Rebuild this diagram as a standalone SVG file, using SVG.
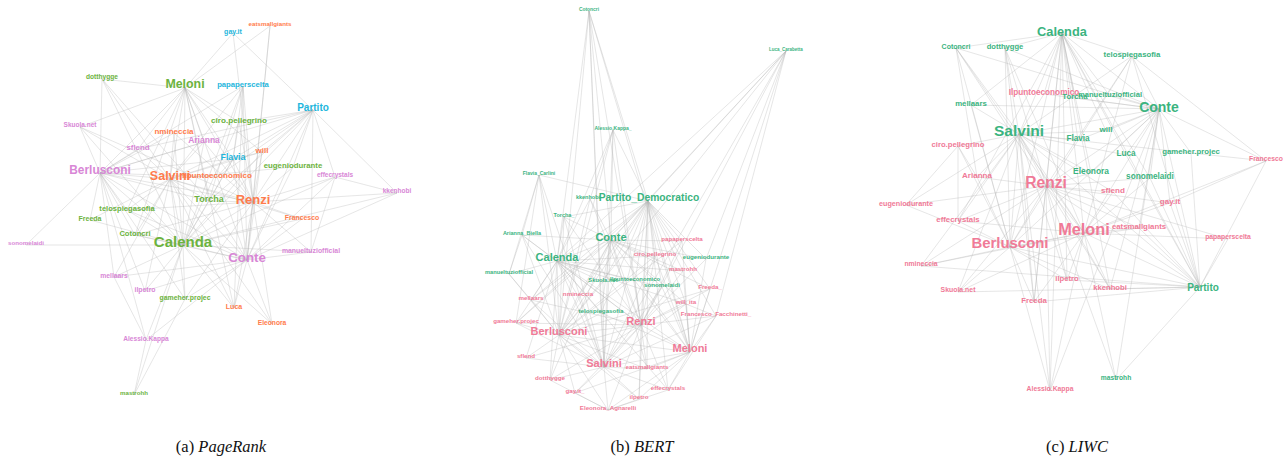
<svg xmlns="http://www.w3.org/2000/svg" width="1286" height="459" viewBox="0 0 1286 459">
<style>
.e{fill:none;stroke:#b4b4b4;stroke-width:.55;opacity:.62}
.t{font-family:"Liberation Sans",Arial,Helvetica,sans-serif;font-weight:bold;text-anchor:middle}
.ga{fill:#6cb33e}.oa{fill:#ff7b4c}.pa{fill:#d887d6}.ca{fill:#1eb6dc}
.gb{fill:#3bb47f}.pb{fill:#f07a97}
.cap{font-family:"Liberation Serif","Times New Roman",serif;font-size:16.5px;fill:#111;text-anchor:middle}
</style>
<rect width="1286" height="459" fill="#fff"/>
<g id="pagerank">
<g id="pagerank-edges">
<path class="e" d="M185 88L233 33M185 88L270 26M185 88L102 79M185 88L80 127M185 88L239 122M185 88L204 142M185 88L233 159M185 88L170 179M185 88L253 202M185 88L183 245M185 88L209 201M185 88L247 260M185 88L127 210M185 88L135 235M185 88L262 152M185 88L234 308M185 88L138 149M185 88L100 173"/>
<path class="e" d="M313 110L233 33M313 110L239 122M313 110L233 159M313 110L170 179M313 110L100 173M313 110L209 201M313 110L183 245M313 110L247 260M313 110L253 202M313 110L397 193M313 110L335 177M313 110L293 167M313 110L311 252M313 110L217 177M313 110L262 152M313 110L138 149"/>
<path class="e" d="M243 86L253 202M243 86L183 245M243 86L209 201M243 86L170 179M243 86L247 260M243 86L233 159M243 86L100 173M243 86L234 308M270 26L253 202M270 26L247 260M233 33L253 202"/>
<path class="e" d="M102 79L170 179M102 79L183 245M102 79L100 173M102 79L209 201M80 127L100 173M80 127L183 245M80 127L170 179M80 127L253 202"/>
<path class="e" d="M100 173L170 179M100 173L253 202M100 173L183 245M100 173L247 260M100 173L90 220M100 173L127 210M100 173L135 235M100 173L114 277M100 173L145 291M100 173L146 340M100 173L26 245M100 173L204 142M100 173L233 159M100 173L209 201M100 173L174 133M100 173L138 149M100 173L217 177M100 173L185 299"/>
<path class="e" d="M170 179L253 202M170 179L183 245M170 179L247 260M170 179L209 201M170 179L233 159M170 179L204 142M170 179L174 133M170 179L138 149M170 179L127 210M170 179L135 235M170 179L90 220M170 179L185 299M170 179L114 277M170 179L145 291M170 179L302 219M170 179L293 167M170 179L262 152M170 179L234 308M170 179L272 324"/>
<path class="e" d="M253 202L183 245M253 202L247 260M253 202L209 201M253 202L233 159M253 202L262 152M253 202L293 167M253 202L302 219M253 202L234 308M253 202L272 324M253 202L311 252M253 202L239 122M253 202L335 177M253 202L204 142M253 202L174 133M253 202L185 299M253 202L127 210M253 202L135 235M253 202L397 193"/>
<path class="e" d="M183 245L247 260M183 245L209 201M183 245L135 235M183 245L127 210M183 245L90 220M183 245L26 245M183 245L114 277M183 245L145 291M183 245L185 299M183 245L234 308M183 245L272 324M183 245L146 340M183 245L134 395M183 245L302 219M183 245L311 252M183 245L397 193M183 245L239 122M183 245L233 159M183 245L204 142M183 245L262 152M183 245L335 177M183 245L174 133"/>
<path class="e" d="M247 260L209 201M247 260L302 219M247 260L311 252M247 260L234 308M247 260L272 324M247 260L185 299M247 260L145 291M247 260L146 340M247 260L114 277M247 260L397 193M247 260L335 177M247 260L293 167M247 260L233 159M247 260L262 152M247 260L135 235M247 260L127 210"/>
<path class="e" d="M233 159L209 201M233 159L262 152M233 159L239 122M233 159L217 177M311 252L335 177M134 395L146 340M134 395L185 299M146 340L114 277M335 177L397 193"/>
</g>
<g id="pr-gayit"><text class="t ca" x="233" y="33.5" font-size="7">gay.it</text></g>
<g id="pr-eatsmallgiants"><text class="t oa" x="270" y="26.2" font-size="6.2">eatsmallgiants</text></g>
<g id="pr-dotthygge"><text class="t ga" x="102" y="79.3" font-size="6.6">dotthygge</text></g>
<g id="pr-meloni"><text class="t ga" x="185" y="88.4" font-size="12.4">Meloni</text></g>
<g id="pr-papaperscelta"><text class="t ca" x="243" y="86.7" font-size="7.7">papaperscelta</text></g>
<g id="pr-partito"><text class="t ca" x="313" y="110.5" font-size="10">Partito</text></g>
<g id="pr-skuola"><text class="t pa" x="80" y="127.3" font-size="6.5">Skuola.net</text></g>
<g id="pr-ciro"><text class="t ga" x="239" y="122.8" font-size="8.1">ciro.pellegrino</text></g>
<g id="pr-nmineccia"><text class="t oa" x="174" y="133.8" font-size="8">nmineccia</text></g>
<g id="pr-arianna"><text class="t pa" x="204" y="143" font-size="8.5">Arianna</text></g>
<g id="pr-sflend"><text class="t pa" x="138" y="149.7" font-size="7.8">sflend</text></g>
<g id="pr-will"><text class="t oa" x="262" y="152.8" font-size="8">will</text></g>
<g id="pr-flavia"><text class="t ca" x="233" y="160.2" font-size="8.8">Flavia</text></g>
<g id="pr-eugeniodurante"><text class="t ga" x="293" y="167.7" font-size="7.8">eugeniodurante</text></g>
<g id="pr-berlusconi"><text class="t pa" x="100" y="174.2" font-size="11.9">Berlusconi</text></g>
<g id="pr-salvini"><text class="t oa" x="170" y="180.4" font-size="12.5">Salvini</text></g>
<g id="pr-ilpunto"><text class="t oa" x="217" y="177.9" font-size="8.1">Ilpuntoeconomico</text></g>
<g id="pr-effecrystals"><text class="t pa" x="335" y="177.3" font-size="6.5">effecrystals</text></g>
<g id="pr-kkenhobi"><text class="t pa" x="397" y="193.3" font-size="6.5">kkenhobi</text></g>
<g id="pr-torcha"><text class="t ga" x="209" y="202.2" font-size="9">Torcha</text></g>
<g id="pr-renzi"><text class="t oa" x="253" y="203.5" font-size="13">Renzi</text></g>
<g id="pr-telospiegasofia"><text class="t ga" x="127" y="210.6" font-size="7.6">telospiegasofia</text></g>
<g id="pr-freeda"><text class="t ga" x="90" y="220.5" font-size="7">Freeda</text></g>
<g id="pr-francesco"><text class="t oa" x="302" y="219.5" font-size="6.9">Francesco</text></g>
<g id="pr-cotoncri"><text class="t ga" x="135" y="235.6" font-size="7.6">Cotoncri</text></g>
<g id="pr-calenda"><text class="t ga" x="183" y="247.2" font-size="15">Calenda</text></g>
<g id="pr-sonomelaidi"><text class="t pa" x="26" y="245.3" font-size="6.2">sonomelaidi</text></g>
<g id="pr-conte"><text class="t pa" x="247" y="261.7" font-size="13.3">Conte</text></g>
<g id="pr-manueltuziofficial"><text class="t pa" x="311" y="252.6" font-size="6.9">manueltuziofficial</text></g>
<g id="pr-mellaars"><text class="t pa" x="114" y="277.5" font-size="6.8">mellaars</text></g>
<g id="pr-ilpetro"><text class="t pa" x="145" y="291.5" font-size="6.9">ilpetro</text></g>
<g id="pr-gameher"><text class="t ga" x="185" y="299.6" font-size="6.9">gameher.projec</text></g>
<g id="pr-luca"><text class="t oa" x="234" y="308.5" font-size="7">Luca</text></g>
<g id="pr-eleonora"><text class="t oa" x="272" y="324.5" font-size="6.7">Eleonora</text></g>
<g id="pr-alessio"><text class="t pa" x="146" y="340.5" font-size="6.6">Alessio.Kappa</text></g>
<g id="pr-mastrohh"><text class="t ga" x="134" y="395.1" font-size="6.1">mastrohh</text></g>
</g>
<g id="bert">
<g id="bert-edges">
<path class="e" d="M589 11L557 261M589 11L559 335M589 11L604 367M589 11L611 240M589 11L641 325M589 11L648 201M589 11L690 352M589 11L601 313"/>
<path class="e" d="M786 51L648 201M786 51L611 240M786 51L641 325M786 51L690 352M786 51L604 367M786 51L557 261M786 51L716 316M786 51L706 259M786 51L559 335"/>
<path class="e" d="M613 130L557 261M613 130L611 240M613 130L559 335M613 130L641 325M613 130L590 199M613 130L604 367M613 130L648 201"/>
<path class="e" d="M539 175L648 201M539 175L557 261M539 175L559 335M539 175L522 235M539 175L509 274M539 175L604 367M539 175L516 323M590 199L557 261M590 199L611 240M590 199L559 335M590 199L641 325"/>
<path class="e" d="M648 201L611 240M648 201L557 261M648 201L641 325M648 201L559 335M648 201L690 352M648 201L604 367M648 201L682 241M648 201L655 256M648 201L706 259M648 201L683 271M648 201L603 282M648 201L635 281M648 201L662 287M648 201L710 289M648 201L686 304M648 201L601 313M648 201L716 316M648 201L578 296M648 201L564 217M648 201L531 300M648 201L668 390M648 201L647 369M648 201L639 399M648 201L516 323"/>
<path class="e" d="M564 217L557 261M564 217L611 240M564 217L559 335M564 217L641 325M564 217L604 367M522 235L557 261M522 235L559 335M522 235L641 325M522 235L604 367M522 235L611 240M522 235L509 274"/>
<path class="e" d="M611 240L557 261M611 240L641 325M611 240L559 335M611 240L690 352M611 240L604 367M611 240L682 241M611 240L655 256M611 240L706 259M611 240L603 282M611 240L662 287M611 240L578 296M611 240L531 300M611 240L601 313M611 240L686 304M611 240L710 289M611 240L516 323M611 240L647 369M611 240L550 380M611 240L683 271"/>
<path class="e" d="M557 261L641 325M557 261L559 335M557 261L690 352M557 261L604 367M557 261L509 274M557 261L531 300M557 261L578 296M557 261L603 282M557 261L635 281M557 261L662 287M557 261L601 313M557 261L516 323M557 261L526 358M557 261L550 380M557 261L683 271M557 261L655 256M557 261L686 304M557 261L668 390"/>
<path class="e" d="M641 325L559 335M641 325L690 352M641 325L604 367M641 325L655 256M641 325L683 271M641 325L662 287M641 325L710 289M641 325L686 304M641 325L716 316M641 325L516 323M641 325L531 300M641 325L647 369M641 325L668 390M641 325L639 399M641 325L575 393M641 325L608 410M641 325L550 380M641 325L526 358M641 325L635 281M641 325L682 241M641 325L706 259"/>
<path class="e" d="M559 335L690 352M559 335L604 367M559 335L509 274M559 335L531 300M559 335L516 323M559 335L526 358M559 335L550 380M559 335L575 393M559 335L608 410M559 335L639 399M559 335L647 369M559 335L601 313M559 335L578 296M559 335L603 282M559 335L682 241M559 335L710 289M559 335L655 256"/>
<path class="e" d="M690 352L604 367M690 352L716 316M690 352L686 304M690 352L710 289M690 352L706 259M690 352L683 271M690 352L668 390M690 352L647 369M690 352L639 399M690 352L608 410M690 352L682 241M690 352L662 287M690 352L575 393M690 352L635 281M690 352L655 256M690 352L601 313"/>
<path class="e" d="M604 367L526 358M604 367L550 380M604 367L575 393M604 367L608 410M604 367L639 399M604 367L668 390M604 367L647 369M604 367L516 323M604 367L601 313M604 367L578 296M604 367L531 300M604 367L603 282M604 367L686 304M604 367L716 316M604 367L655 256M604 367L662 287"/>
<path class="e" d="M509 274L531 300M608 410L550 380M608 410L575 393M608 410L639 399M608 410L668 390M716 316L668 390M716 316L686 304"/>
</g>
<g id="bert-cotoncri"><text class="t gb" x="589" y="10.7" font-size="4.9">Cotoncri</text></g>
<g id="bert-luca-carabetta"><text class="t gb" x="786" y="50.6" font-size="4.5">Luca_Carabetta</text></g>
<g id="bert-alessio"><text class="t gb" x="613" y="129.8" font-size="5">Alessio.Kappa_</text></g>
<g id="bert-flavia"><text class="t gb" x="539" y="174.8" font-size="5">Flavia_Carlini</text></g>
<g id="bert-kkenhobi"><text class="t gb" x="588" y="198.9" font-size="5.5">kkenhobi</text></g>
<g id="bert-pd"><text class="t gb" x="649" y="200.6" font-size="10.3">Partito_Democratico</text></g>
<g id="bert-torcha"><text class="t gb" x="564" y="216.9" font-size="5.5">Torcha_</text></g>
<g id="bert-arianna"><text class="t gb" x="522" y="234.9" font-size="5.5">Arianna_Biella</text></g>
<g id="bert-conte"><text class="t gb" x="611" y="240.9" font-size="11">Conte</text></g>
<g id="bert-papaperscelta"><text class="t pb" x="682" y="241.1" font-size="6.2">papaperscelta</text></g>
<g id="bert-ciro"><text class="t pb" x="655" y="256.1" font-size="6.2">ciro.pellegrino</text></g>
<g id="bert-eugeniodurante"><text class="t gb" x="706" y="259.1" font-size="6.2">eugeniodurante</text></g>
<g id="bert-calenda"><text class="t gb" x="557" y="260.9" font-size="11">Calenda</text></g>
<g id="bert-mastrohh"><text class="t pb" x="683" y="271.1" font-size="6.2">mastrohh</text></g>
<g id="bert-manueltuziofficial"><text class="t gb" x="509" y="274" font-size="5.7">manueltuziofficial</text></g>
<g id="bert-skuola"><text class="t gb" x="603" y="282" font-size="5.8">Skuola.net</text></g>
<g id="bert-ilpunto"><text class="t gb" x="635" y="281" font-size="5.8">Ilpuntoeconomico</text></g>
<g id="bert-sonomelaidi"><text class="t gb" x="662" y="287.1" font-size="6.2">sonomelaidi</text></g>
<g id="bert-freeda"><text class="t pb" x="710" y="289.1" font-size="6.2">Freeda_</text></g>
<g id="bert-nmineccia"><text class="t pb" x="578" y="296.1" font-size="6.2">nmineccia</text></g>
<g id="bert-mellaars"><text class="t pb" x="531" y="300.1" font-size="6.2">mellaars</text></g>
<g id="bert-will"><text class="t pb" x="686" y="304.1" font-size="6.2">will_ita</text></g>
<g id="bert-telospiegasofia"><text class="t gb" x="601" y="313.1" font-size="6.2">telospiegasofia</text></g>
<g id="bert-francesco"><text class="t pb" x="716" y="316.1" font-size="6.2">Francesco_Facchinetti_</text></g>
<g id="bert-gameher"><text class="t pb" x="516" y="323.1" font-size="6.2">gameher.projec</text></g>
<g id="bert-renzi"><text class="t pb" x="641" y="324.9" font-size="11">Renzi</text></g>
<g id="bert-berlusconi"><text class="t pb" x="559" y="334.9" font-size="11">Berlusconi</text></g>
<g id="bert-meloni"><text class="t pb" x="690" y="351.9" font-size="11">Meloni</text></g>
<g id="bert-sflend"><text class="t pb" x="526" y="358.1" font-size="6.2">sflend</text></g>
<g id="bert-salvini"><text class="t pb" x="604" y="366.9" font-size="11">Salvini</text></g>
<g id="bert-eatsmallgiants"><text class="t pb" x="647" y="369.1" font-size="6.2">eatsmallgiants</text></g>
<g id="bert-dotthygge"><text class="t pb" x="550" y="380.1" font-size="6.2">dotthygge</text></g>
<g id="bert-effecrystals"><text class="t pb" x="668" y="390.1" font-size="6.2">effecrystals</text></g>
<g id="bert-gayit"><text class="t pb" x="575" y="393.1" font-size="6.2">gay.it_</text></g>
<g id="bert-ilpetro"><text class="t pb" x="639" y="399.1" font-size="6.2">ilpetro</text></g>
<g id="bert-eleonora"><text class="t pb" x="608" y="410.1" font-size="6.2">Eleonora_Agnarelli</text></g>
</g>
<g id="liwc">
<g id="liwc-edges">
<path class="e" d="M1062 33L956 48M1062 33L1005 48M1062 33L1132 56M1062 33L1159 109M1062 33L1019 134M1062 33L1046 186M1062 33L1084 233M1062 33L1010 247M1062 33L1075 98M1062 33L1078 140M1062 33L1106 131M1062 33L971 105M1062 33L1126 155M1062 33L1091 173M1062 33L1044 94M1062 33L1200 287M1062 33L1050 391M1062 33L1067 280M1062 33L1110 289M1062 33L1034 302M1062 33L958 221M1062 33L1150 178M1062 33L1110 96"/>
<path class="e" d="M956 48L1019 134M956 48L1046 186M956 48L1010 247M956 48L1084 233M956 48L977 177M956 48L1159 109M1005 48L1019 134M1005 48L1046 186M1005 48L1084 233M1005 48L1010 247M1005 48L1159 109M1005 48L1034 302"/>
<path class="e" d="M1132 56L1159 109M1132 56L1019 134M1132 56L1046 186M1132 56L1084 233M1132 56L1200 287M1132 56L1010 247M1132 56L1266 161"/>
<path class="e" d="M1159 109L1019 134M1159 109L1046 186M1159 109L1084 233M1159 109L1010 247M1159 109L1200 287M1159 109L1266 161M1159 109L1191 153M1159 109L1126 155M1159 109L1106 131M1159 109L1078 140M1159 109L1150 178M1159 109L1091 173M1159 109L1170 203M1159 109L971 105M1159 109L1044 94M1159 109L1075 98M1159 109L1139 228M1159 109L1110 289M1159 109L1050 391M1159 109L1116 380M1159 109L1110 96"/>
<path class="e" d="M1019 134L1046 186M1019 134L1084 233M1019 134L1010 247M1019 134L1200 287M1019 134L958 146M1019 134L977 177M1019 134L971 105M1019 134L1078 140M1019 134L1106 131M1019 134L1126 155M1019 134L1191 153M1019 134L1091 173M1019 134L958 221M1019 134L921 266M1019 134L958 292M1019 134L1034 302M1019 134L1067 280M1019 134L1110 289M1019 134L1113 192M1019 134L1050 391M1019 134L906 205M1019 134L1044 94"/>
<path class="e" d="M1046 186L1084 233M1046 186L1010 247M1046 186L1200 287M1046 186L977 177M1046 186L906 205M1046 186L958 221M1046 186L1113 192M1046 186L1170 203M1046 186L1139 228M1046 186L1034 302M1046 186L1067 280M1046 186L1110 289M1046 186L1050 391M1046 186L1116 380M1046 186L1150 178M1046 186L1091 173M1046 186L958 292M1046 186L921 266M1046 186L1228 239"/>
<path class="e" d="M1084 233L1010 247M1084 233L1200 287M1084 233L1139 228M1084 233L1170 203M1084 233L1228 239M1084 233L1113 192M1084 233L1067 280M1084 233L1110 289M1084 233L1034 302M1084 233L1050 391M1084 233L1116 380M1084 233L1266 161M1084 233L958 221M1084 233L921 266M1084 233L958 292M1084 233L1150 178"/>
<path class="e" d="M1010 247L1200 287M1010 247L958 221M1010 247L906 205M1010 247L921 266M1010 247L958 292M1010 247L1034 302M1010 247L1067 280M1010 247L1050 391M1010 247L958 146M1010 247L977 177M1010 247L971 105M1010 247L1110 289M1010 247L1139 228"/>
<path class="e" d="M1200 287L1266 161M1200 287L1228 239M1200 287L1170 203M1200 287L1110 289M1200 287L1067 280M1200 287L958 292M1200 287L1034 302M1200 287L1116 380M1200 287L921 266M1200 287L1150 178M1200 287L1139 228M1200 287L1191 153M1200 287L1126 155M1200 287L1113 192"/>
<path class="e" d="M1266 161L1191 153M1266 161L1170 203M958 146L977 177M958 146L958 221M958 146L906 205"/>
</g>
<g id="liwc-calenda"><text class="t gb" x="1062" y="35.5" font-size="12.8">Calenda</text></g>
<g id="liwc-cotoncri"><text class="t gb" x="956" y="48.5" font-size="7">Cotoncri</text></g>
<g id="liwc-dotthygge"><text class="t gb" x="1005" y="48.7" font-size="7.6">dotthygge</text></g>
<g id="liwc-telospiegasofia"><text class="t gb" x="1132" y="56.7" font-size="7.8">telospiegasofia</text></g>
<g id="liwc-ilpunto"><text class="t pb" x="1044" y="94.9" font-size="8.2">Ilpuntoeconomico</text></g>
<g id="liwc-torcha"><text class="t gb" x="1075" y="98.8" font-size="7.8">Torcha</text></g>
<g id="liwc-manueltuziofficial"><text class="t gb" x="1110" y="96.7" font-size="7.6">manueltuziofficial</text></g>
<g id="liwc-mellaars"><text class="t gb" x="971" y="105.7" font-size="7.8">mellaars</text></g>
<g id="liwc-conte"><text class="t gb" x="1159" y="111.9" font-size="14">Conte</text></g>
<g id="liwc-salvini"><text class="t gb" x="1019" y="136.4" font-size="15.5">Salvini</text></g>
<g id="liwc-will"><text class="t gb" x="1106" y="131.8" font-size="8">will</text></g>
<g id="liwc-flavia"><text class="t gb" x="1078" y="140.9" font-size="8.2">Flavia</text></g>
<g id="liwc-ciro"><text class="t pb" x="958" y="146.7" font-size="7.7">ciro.pellegrino</text></g>
<g id="liwc-luca"><text class="t gb" x="1126" y="155.9" font-size="8.2">Luca</text></g>
<g id="liwc-gameher"><text class="t gb" x="1191" y="153.7" font-size="7.8">gameher.projec</text></g>
<g id="liwc-francesco"><text class="t pb" x="1266" y="161.4" font-size="6.8">Francesco</text></g>
<g id="liwc-arianna"><text class="t pb" x="977" y="177.8" font-size="8">Arianna</text></g>
<g id="liwc-eleonora"><text class="t gb" x="1091" y="173.9" font-size="8.4">Eleonora</text></g>
<g id="liwc-sonomelaidi"><text class="t gb" x="1150" y="178.9" font-size="8.2">sonomelaidi</text></g>
<g id="liwc-renzi"><text class="t pb" x="1046" y="187.5" font-size="15.6">Renzi</text></g>
<g id="liwc-sflend"><text class="t pb" x="1113" y="192.8" font-size="8.1">sflend</text></g>
<g id="liwc-gayit"><text class="t pb" x="1170" y="203.8" font-size="8">gay.it</text></g>
<g id="liwc-eugeniodurante"><text class="t pb" x="906" y="205.5" font-size="7.2">eugeniodurante</text></g>
<g id="liwc-effecrystals"><text class="t pb" x="958" y="221.7" font-size="7.8">effecrystals</text></g>
<g id="liwc-meloni"><text class="t pb" x="1084" y="234.7" font-size="16.3">Meloni</text></g>
<g id="liwc-eatsmallgiants"><text class="t pb" x="1139" y="228.7" font-size="7.8">eatsmallgiants</text></g>
<g id="liwc-papaperscelta"><text class="t pb" x="1228" y="239.4" font-size="6.8">papaperscelta</text></g>
<g id="liwc-berlusconi"><text class="t pb" x="1010" y="248.2" font-size="14.9">Berlusconi</text></g>
<g id="liwc-nmineccia"><text class="t pb" x="921" y="266.4" font-size="6.8">nmineccia</text></g>
<g id="liwc-ilpetro"><text class="t pb" x="1067" y="280.7" font-size="7.7">ilpetro</text></g>
<g id="liwc-kkenhobi"><text class="t pb" x="1110" y="289.7" font-size="7.7">kkenhobi</text></g>
<g id="liwc-partito"><text class="t gb" x="1203" y="290.5" font-size="10">Partito</text></g>
<g id="liwc-skuola"><text class="t pb" x="958" y="292.4" font-size="6.9">Skuola.net</text></g>
<g id="liwc-freeda"><text class="t pb" x="1034" y="302.7" font-size="7.8">Freeda</text></g>
<g id="liwc-mastrohh"><text class="t gb" x="1116" y="380.3" font-size="6.7">mastrohh</text></g>
<g id="liwc-alessio"><text class="t pb" x="1050" y="391.4" font-size="6.8">Alessio.Kappa</text></g>
</g>
<g id="captions">
<text class="cap" x="221" y="452">(a) <tspan font-style="italic">PageRank</tspan></text>
<text class="cap" x="642" y="452">(b) <tspan font-style="italic">BERT</tspan></text>
<text class="cap" x="1077" y="452">(c) <tspan font-style="italic">LIWC</tspan></text>
</g>
</svg>
